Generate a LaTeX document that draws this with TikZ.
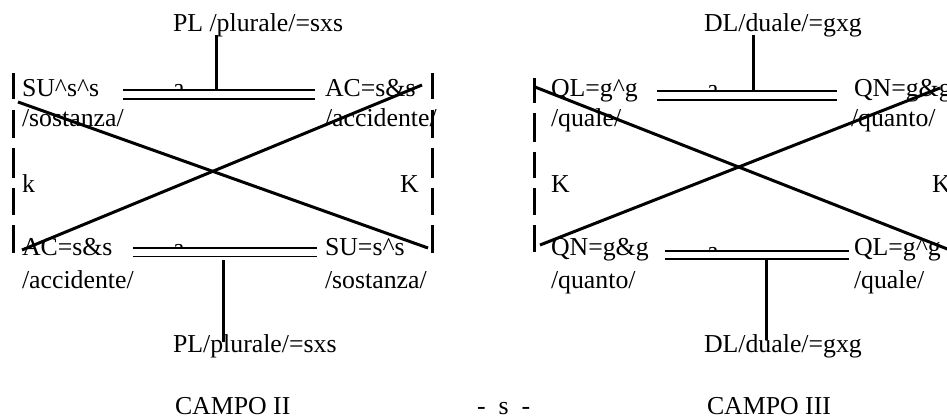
\documentclass[tikz,border=0pt]{standalone}
\usepackage{fontspec}
\setmainfont{Liberation Serif}
\begin{document}
\begin{tikzpicture}[x=1pt,y=-1pt,
  lbl/.style={anchor=base west,inner sep=0pt,outer sep=0pt,font=\fontsize{25.8}{30}\selectfont},
  thick3/.style={line width=3pt},
  thin1/.style={line width=1.2pt},
  dashseg/.style={line width=3pt}]
\useasboundingbox (0,0) rectangle (947,417);
% ---------- left diagram (CAMPO II) ----------
\node[lbl] (pl1) at (173,32) {PL /plurale/=sxs};
\node[lbl] (su1) at (22,97) {SU\textasciicircum s\textasciicircum s};
\node[lbl] (sos1) at (22,127) {/sostanza/};
\node[lbl] (ac1) at (325,97) {AC=s\&s};
\node[lbl] (acc1) at (325,127) {/accidente/};
\node[lbl] (k1) at (22,192) {k};
\node[lbl] (K1) at (400,192) {K};
\node[lbl] (ac2) at (22,255) {AC=s\&s};
\node[lbl] (acc2) at (22,288) {/accidente/};
\node[lbl] (su2) at (325,255) {SU=s\textasciicircum s};
\node[lbl] (sos2) at (325,288) {/sostanza/};
\node[lbl] (pl2) at (173,352) {PL/plurale/=sxs};
\node[lbl] (campo2) at (175,414) {CAMPO II};
\begin{scope}
  \clip (165,75) rectangle (200,89.3);
  \node[lbl] (a1) at (173,97) {a};
\end{scope}
\begin{scope}
  \clip (165,235) rectangle (200,246.8);
  \node[lbl] (a2) at (173,256) {a};
\end{scope}
\coordinate (v1t) at (216.7,35);
\coordinate (v1b) at (216.7,90);
\coordinate (d1l) at (123,90);
\coordinate (d1r) at (315,90);
\coordinate (d2l) at (123,99);
\coordinate (d2r) at (315,99);
\draw[thick3] (v1t) -- (v1b);
\draw[thin1] (d1l) -- (d1r);
\draw[thin1] (d2l) -- (d2r);
\coordinate (e1l) at (133,248);
\coordinate (e1r) at (317,248);
\coordinate (e2l) at (133,256.5);
\coordinate (e2r) at (317,256.5);
\coordinate (v2t) at (223,260);
\coordinate (v2b) at (223,342);
\draw[thin1] (e1l) -- (e1r);
\draw[thin1] (e2l) -- (e2r);
\draw[thick3] (v2t) -- (v2b);
\coordinate (x1a) at (18,102);
\coordinate (x1b) at (428,248);
\coordinate (x2a) at (422,85);
\coordinate (x2b) at (22,250);
\draw[thick3] (x1a) -- (x1b);
\draw[thick3] (x2a) -- (x2b);
\foreach \ya/\yb in {73/99,110/138,148/178,188/215,225/253}{
  \draw[dashseg] (13,\ya) -- (13,\yb);
  \draw[dashseg] (432,\ya) -- (432,\yb);
}
% ---------- middle ----------
\node[lbl] (sep) at (477,414) {-\hspace{13pt}s\hspace{13pt}-};
% ---------- right diagram (CAMPO III) ----------
\node[lbl] (dl1) at (704,32) {DL/duale/=gxg};
\node[lbl] (ql1) at (551,97) {QL=g\textasciicircum g};
\node[lbl] (qua1) at (551,127) {/quale/};
\node[lbl] (qn1) at (854,97) {QN=g\&g};
\node[lbl] (quan1) at (851,127) {/quanto/};
\node[lbl] (K2) at (551,192) {K};
\node[lbl] (K3) at (932,192) {K};
\node[lbl] (qn2) at (551,255) {QN=g\&g};
\node[lbl] (quan2) at (551,288) {/quanto/};
\node[lbl] (ql2) at (854,255) {QL=g\textasciicircum g};
\node[lbl] (qua2) at (854,288) {/quale/};
\node[lbl] (dl2) at (704,352) {DL/duale/=gxg};
\node[lbl] (campo3) at (707,414) {CAMPO III};
\begin{scope}
  \clip (700,75) rectangle (730,90.3);
  \node[lbl] (a3) at (707,98) {a};
\end{scope}
\begin{scope}
  \clip (700,235) rectangle (730,250.5);
  \node[lbl] (a4) at (707,259.5) {a};
\end{scope}
\coordinate (w1t) at (753,35);
\coordinate (w1b) at (753,91);
\coordinate (f1l) at (657,91);
\coordinate (f1r) at (837,91);
\coordinate (f2l) at (657,100);
\coordinate (f2r) at (837,100);
\draw[thick3] (w1t) -- (w1b);
\draw[thin1] (f1l) -- (f1r);
\draw[thin1] (f2l) -- (f2r);
\coordinate (g1l) at (665,251);
\coordinate (g1r) at (849,251);
\coordinate (g2l) at (665,259);
\coordinate (g2r) at (849,259);
\coordinate (w2t) at (766,259);
\coordinate (w2b) at (766,340);
\draw[thin1] (g1l) -- (g1r);
\draw[thin1] (g2l) -- (g2r);
\draw[thick3] (w2t) -- (w2b);
\coordinate (y1a) at (535,87);
\coordinate (y1b) at (955,252);
\coordinate (y2a) at (940,88);
\coordinate (y2b) at (540,245);
\draw[thick3] (y1a) -- (y1b);
\draw[thick3] (y2a) -- (y2b);
\foreach \ya/\yb in {78/103,113/142,152/178,188/215,225/252}{
  \draw[dashseg] (534,\ya) -- (534,\yb);
}
\end{tikzpicture}
\end{document}
